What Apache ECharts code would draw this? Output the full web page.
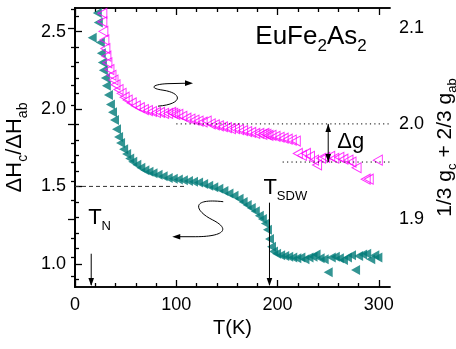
<!DOCTYPE html>
<html>
<head>
<meta charset="utf-8">
<script src="https://cdn.jsdelivr.net/npm/echarts@6/dist/echarts.min.js"></script>
<style>
  html, body { margin: 0; padding: 0; background: #fff; }
  #chart { width: 456px; height: 349px; }
</style>
</head>
<body>
<div id="chart"></div>
<script>
// dHc/dHab ratio (left axis)
const ratioT = [17, 22, 23, 25, 26, 27, 28, 30, 31, 33, 35, 37, 39, 41, 43, 45, 48, 51, 54, 57,
  61, 65, 69, 73, 77, 82, 87, 92, 97, 102, 107, 112, 117, 122, 127, 132, 137, 142, 147, 152,
  157, 162, 166, 170, 174, 178, 182, 185, 188, 190, 192, 194, 196, 199, 203, 207, 211, 215, 219, 223,
  227, 231, 235, 238, 242, 246, 250, 253, 257, 261, 265, 269, 273, 277, 280, 284, 288, 292, 296, 299];
const ratioVal = [2.46, 2.62, 2.56, 2.43, 2.36, 2.30, 2.25, 2.20, 2.15, 2.09, 2.03, 1.98, 1.93, 1.87, 1.82, 1.78, 1.74, 1.71, 1.68, 1.66,
  1.64, 1.62, 1.605, 1.595, 1.585, 1.575, 1.565, 1.555, 1.55, 1.545, 1.54, 1.535, 1.53, 1.525, 1.515, 1.505, 1.495, 1.485, 1.47, 1.455,
  1.44, 1.42, 1.40, 1.38, 1.36, 1.34, 1.31, 1.29, 1.26, 1.22, 1.16, 1.11, 1.08, 1.065, 1.055, 1.05, 1.045, 1.04, 1.035, 1.04,
  1.03, 1.04, 1.045, 1.06, 1.035, 1.03, 0.945, 1.04, 1.045, 1.035, 1.025, 1.04, 1.055, 0.96, 1.05, 1.06, 1.065, 1.03, 1.055, 1.04];

// effective g value (right axis)
const gT = [27, 27, 28, 29, 30, 31, 32, 34, 36, 38, 40, 43, 46, 49, 52, 56, 60, 64, 68, 72,
  76, 80, 84, 88, 92, 95, 97, 99, 102, 106, 110, 114, 118, 122, 126, 130, 134, 138, 142, 146,
  150, 154, 158, 162, 166, 170, 174, 178, 182, 185, 187, 189, 191, 194, 198, 202, 206, 210, 214, 218,
  220, 224, 228, 232, 236, 239, 243, 247, 252, 256, 261, 265, 270, 273, 278, 287, 290, 299];
const gVal = [2.116, 2.107, 2.097, 2.088, 2.079, 2.071, 2.064, 2.057, 2.051, 2.046, 2.041, 2.036, 2.032, 2.028, 2.025, 2.022, 2.019, 2.017, 2.015, 2.014,
  2.013, 2.012, 2.012, 2.011, 2.011, 2.012, 2.011, 2.010, 2.010, 2.008, 2.006, 2.005, 2.004, 2.003, 2.002, 2.003, 2.000, 1.999, 1.998, 1.997,
  1.996, 1.995, 1.995, 1.994, 1.993, 1.992, 1.991, 1.990, 1.990, 1.989, 1.990, 1.989, 1.988, 1.988, 1.987, 1.986, 1.985, 1.984, 1.983, 1.982,
  1.969, 1.967, 1.969, 1.966, 1.962, 1.957, 1.964, 1.965, 1.966, 1.964, 1.965, 1.963, 1.962, 1.960, 1.954, 1.942, 1.942, 1.962];

// ticks
const xMajor = [0, 100, 200, 300];
const xMinor = [20, 40, 60, 80, 120, 140, 160, 180, 220, 240, 260, 280];
const leftMajor = [1.0, 1.5, 2.0, 2.5];
const leftMinor = [0.9, 1.1, 1.2, 1.3, 1.4, 1.6, 1.7, 1.8, 1.9, 2.1, 2.2, 2.3, 2.4, 2.6];
const rightMajor = [1.9, 2.0, 2.1];
const rightMinor = [1.84, 1.86, 1.88, 1.92, 1.94, 1.96, 1.98, 2.02, 2.04, 2.06, 2.08, 2.12];

const FONT = 'Liberation Sans, Arial, sans-serif';
const TEAL = '#007b78';
const MAGENTA = '#ff00ff';

const chart = echarts.init(document.getElementById('chart'));

const xRange = { min: 0, max: 311 };
const leftRange = { min: 0.85, max: 2.653 };
const rightRange = { min: 1.829, max: 2.1215 };

function axisBase(range, pos, ticks, len, labels, fmt) {
  return {
    type: 'value', position: pos, min: range.min, max: range.max, offset: 0,
    axisLine: { show: true, lineStyle: { color: '#000', width: 1.5 } },
    axisTick: { show: true, inside: true, length: len, customValues: ticks, lineStyle: { color: '#000', width: 1.3 } },
    axisLabel: labels
      ? { show: true, customValues: ticks, formatter: fmt, color: '#000', fontFamily: FONT, fontSize: 18, margin: 9 }
      : { show: false },
    splitLine: { show: false },
    minorTick: { show: false },
  };
}

const sub = (size, pad) => ({ fontSize: size, fontFamily: FONT, color: '#000', verticalAlign: 'top', lineHeight: size, padding: [pad, 0, 0, 0] });
const main = (size) => ({ fontSize: size, fontFamily: FONT, color: '#000', verticalAlign: 'top', lineHeight: size + 2 });

const xBottom = axisBase(xRange, 'bottom', xMajor, 7, true, (v) => String(v));
Object.assign(xBottom, {
  name: 'T(K)', nameLocation: 'middle', nameGap: 30,
  nameTextStyle: { fontFamily: FONT, fontSize: 20, color: '#000' },
});

const yLeft = axisBase(leftRange, 'left', leftMajor, 7, true, (v) => v.toFixed(1));
Object.assign(yLeft, {
  name: '{m|ΔH}{s|c}{m|/ΔH}{s|ab}', nameLocation: 'middle', nameGap: 34, nameRotate: 90,
  nameTextStyle: { rich: { m: main(22), s: sub(14, 12) } },
});

const yRight = axisBase(rightRange, 'right', rightMajor, 7, true, (v) => v.toFixed(1));
Object.assign(yRight, {
  name: '{m|1/3 g}{s|c}{m| + 2/3 g}{s|ab}', nameLocation: 'middle', nameGap: 30, nameRotate: 90,
  nameTextStyle: { rich: { m: main(21), s: sub(13, 11) } },
});

chart.setOption({
  animation: false,
  backgroundColor: '#fff',
  grid: { left: 75, right: 66, top: 8, bottom: 62, containLabel: false, outerBoundsMode: 'none' },
  xAxis: [
    xBottom,
    axisBase(xRange, 'bottom', xMinor, 4, false),
    axisBase(xRange, 'top', xMajor, 7, false),
    axisBase(xRange, 'top', xMinor, 4, false),
  ],
  yAxis: [
    yLeft,
    axisBase(leftRange, 'left', leftMinor, 4, false),
    yRight,
    axisBase(rightRange, 'right', rightMinor, 4, false),
  ],
  series: [
    {
      name: 'ratio', type: 'scatter', xAxisIndex: 0, yAxisIndex: 0,
      symbol: 'triangle', symbolRotate: 90, symbolSize: [10, 9],
      itemStyle: { color: TEAL },
      data: ratioT.map((t, i) => [t, ratioVal[i]]),
    },
    {
      name: 'g', type: 'scatter', xAxisIndex: 0, yAxisIndex: 2,
      symbol: 'triangle', symbolRotate: 90, symbolSize: [10, 9],
      itemStyle: { color: 'rgba(255,255,255,0)', borderColor: MAGENTA, borderWidth: 1 },
      data: gT.map((t, i) => [t, gVal[i]]),
    },
  ],
});

// annotations anchored to the data coordinates
const L = (t, v) => chart.convertToPixel({ seriesIndex: 0 }, [t, v]);
const R = (t, v) => chart.convertToPixel({ seriesIndex: 1 }, [t, v]);

function line(a, b, dash, color) {
  return {
    type: 'line', silent: true, z: 50,
    shape: { x1: a[0], y1: a[1], x2: b[0], y2: b[1] },
    style: { stroke: color || '#000', lineWidth: 1, lineDash: dash || null },
  };
}
function curve(o, p) {
  // p = [x1, y1, cx1, cy1, cx2, cy2, x2, y2], relative to o
  return {
    type: 'bezierCurve', silent: true, z: 50, x: o[0], y: o[1],
    shape: { x1: p[0], y1: p[1], cpx1: p[2], cpy1: p[3], cpx2: p[4], cpy2: p[5], x2: p[6], y2: p[7] },
    style: { stroke: '#000', fill: null, lineWidth: 1 },
  };
}
function head(tip, dx, dy) {
  const len = 8, w = 2.8, nx = -dy, ny = dx;
  return {
    type: 'polygon', silent: true, z: 51,
    shape: { points: [tip, [tip[0] - dx * len + nx * w, tip[1] - dy * len + ny * w], [tip[0] - dx * len - nx * w, tip[1] - dy * len - ny * w]] },
    style: { fill: '#000' },
  };
}
function text(pos, str, rich) {
  return { type: 'text', silent: true, z: 52, x: pos[0], y: pos[1], style: { text: str, rich: rich } };
}

const els = [];
els.push(line(L(0, 1.5), L(108, 1.5), [4, 3], '#333'));
els.push(line(R(100, 2.0), R(311, 2.0), [1.2, 3.2]));
els.push(line(R(205, 1.96), R(311, 1.96), [1.2, 3.2]));

// delta g
const g1 = R(250, 2.0), g2 = R(250, 1.96);
els.push(line(g1, g2));
els.push(head(g1, 0, -1));
els.push(head(g2, 0, 1));
const gt = R(259, 1.99);
els.push(text([gt[0], gt[1] - 2], '{m|Δg}', { m: main(22) }));

// T_SDW
const s1 = L(192, 1.395), s2 = L(192, 0.85);
els.push(line(s1, [s2[0], s2[1] - 2]));
els.push(head([s2[0], s2[1] - 1], 0, 1));
const st = L(186, 1.56);
els.push(text(st, '{m|T}{s|SDW}', { m: main(22), s: sub(13, 13) }));

// T_N
const n1 = L(16, 1.065), n2 = L(16, 0.85);
els.push(line(n1, [n2[0], n2[1] - 2]));
els.push(head([n2[0], n2[1] - 1], 0, 1));
const nt = L(13, 1.37);
els.push(text(nt, '{m|T}{s|N}', { m: main(22), s: sub(13, 13) }));

// compound label
const ct = L(178, 2.55);
els.push(text(ct, '{m|EuFe}{s|2}{m|As}{s|2}', { m: main(26), s: sub(17, 14) }));

// curly arrows pointing to the axis each set belongs to
const tipL = L(96, 1.175);
els.push(curve(tipL, [51, -35, 16, -39, 24, -25, 40, -17]));
els.push(curve(tipL, [40, -17, 60, -7, 50, 0, 23, 0]));
els.push(line([tipL[0] + 23, tipL[1]], [tipL[0] + 4, tipL[1]]));
els.push(head(tipL, -1, 0));
const tipR = R(116.5, 2.0427);
els.push(curve(tipR, [-35, 23, -10, 21, -10, 10, -30, 7]));
els.push(curve(tipR, [-30, 7, -45, 5, -40, 1, -25, 0.5]));
els.push(line([tipR[0] - 25, tipR[1] + 0.5], [tipR[0] - 4, tipR[1]]));
els.push(head(tipR, 1, 0));

chart.setOption({ graphic: { elements: els } });
</script>
</body>
</html>
